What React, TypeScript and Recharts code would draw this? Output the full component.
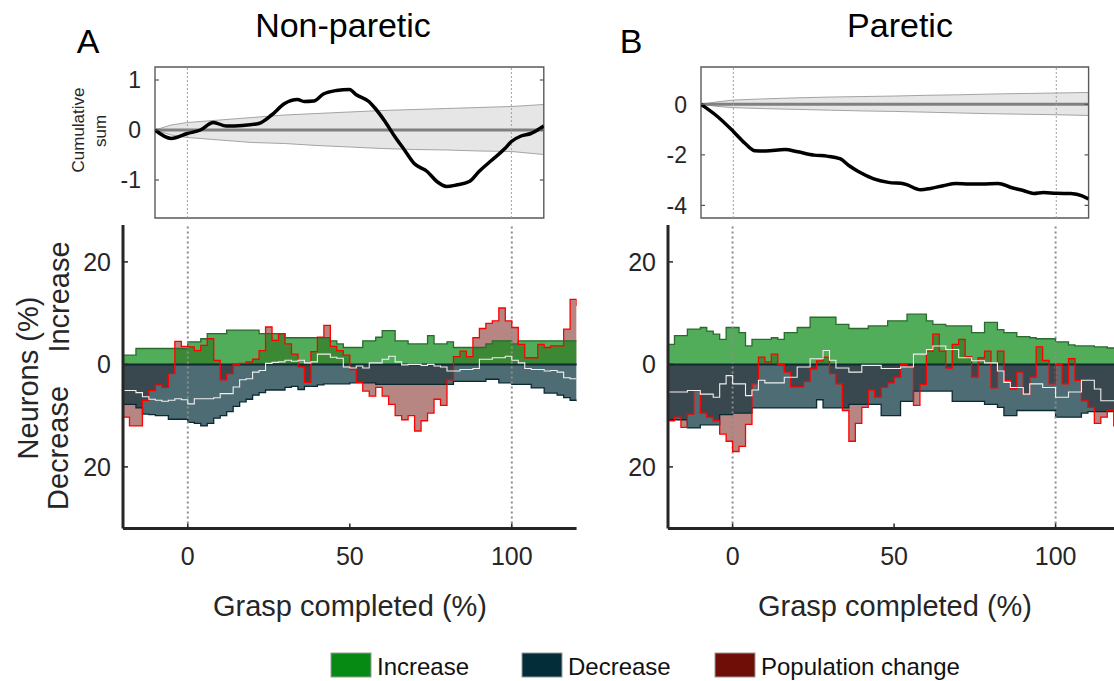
import React from 'react';
import { ComposedChart, Area, Line, XAxis, YAxis, ReferenceLine, ReferenceArea } from 'recharts';

const FONT = '"Liberation Sans", Arial, Helvetica, sans-serif';
const TXT = '#262626';

// ---------- bottom panels: time axis (Grasp completed, %) ----------
const gridX = [-20,-18,-16,-14,-12,-10,-8,-6,-4,-2,0,2,4,6,8,10,12,14,16,18,20,22,24,26,28,30,32,34,36,38,40,42,44,46,48,50,52,54,56,58,60,62,64,66,68,70,72,74,76,78,80,82,84,86,88,90,92,94,96,98,100,102,104,106,108,110,112,114,116,118,120];

// Non-paretic (A)
const aIncrease = [1.8,1.8,3.1,3.1,3.1,3.1,3.1,3.1,3.1,3.1, 4.4,4.4,5.0,6.0,6.0,6.0,6.7,6.7,6.7,6.7, 6.7,6.0,6.0,6.0,6.0,5.2,5.2,5.2,5.2,5.2, 5.2,5.2,4.6,4.0,3.3,3.3,3.3,4.6,4.6,5.3, 6.6,6.6,4.6,4.6,4.0,4.0,4.0,5.6,4.0,4.0, 4.4,3.3,3.3,3.3,3.3,3.3,4.0,4.6,4.6,4.6, 4.0,4.6,4.6,4.6,4.6,4.6,4.6,4.6,4.6,4.6, 4.6];
const aDecrease = [7.8,7.8,8.5,9.7,9.8,10.0,10.0,10.7,10.7,10.7, 11.3,11.5,12.0,11.5,10.5,10.0,9.2,8.2,7.3,6.8, 6.0,5.5,5.0,5.0,5.0,4.5,4.3,4.9,4.3,4.3, 4.0,3.8,3.8,3.8,3.8,3.6,3.6,3.6,3.6,3.9, 3.9,3.9,3.9,3.9,3.9,3.9,3.9,3.9,3.9,3.9, 3.9,3.3,3.3,3.3,3.3,3.3,2.9,2.9,3.6,3.6, 3.9,3.9,3.9,4.6,4.6,5.6,5.6,6.0,6.5,7.0, 7.2];
const aPopulation = [-10.3,-12,-12,-7,-5.1,-4,-4.5,-1.8,4.5,3.5, 3.4,2.7,3.7,5,0.8,-3,-1.8,0,0.2,0.5, 1,2.7,7.3,4.7,6,4,2,-0.5,-3.5,2.5, 5.3,7.6,3.5,2.7,1.8,-1,-3.5,-5.2,-6.2,-4.5, -6.2,-7.8,-10,-10.8,-10,-13,-11,-9.5,-6.8,-8, -3,1.5,2.6,1.5,5.2,7,8,8.5,11,8.5, 7.2,3.9,1.3,1.3,3.9,3.3,3.6,3.6,6.9,12.7, 11.4];
const aMean = [-5.1,-5.1,-5.5,-6.3,-6.8,-7,-7.2,-7,-6.7,-6.9, -7.7,-6.7,-6.7,-6.7,-6.5,-5.7,-5.7,-4.4,-3,-2.8, -1.5,-1.2,0.2,0.4,0.5,0.8,0.6,0.8,0.3,0.5, 2,2,1.4,1.2,-0.5,-0.7,-0.3,-0.7,0.3,0.3, 1,1.6,0.5,-0.1,0,0,-0.2,0,-0.3,-0.5, -1.3,-1.3,-1,-1,-0.8,1,1,1.3,1.3,1.6, 0.8,0.3,-0.8,-1,-1,-1.3,-1.2,-1.5,-2.6,-2.8, -2.8];

// Paretic (B)
const bIncrease = [3.9,5.6,5.6,6.9,6.9,7.2,6.5,5.9,4.9,7.2, 7.2,6.2,3.6,4.9,4.9,4.9,5.2,4.9,6.2,6.2, 7.2,7.2,9.2,9.2,9.2,9.2,7.8,7.8,7.0,7.0, 7.0,7.5,7.5,7.5,8.5,8.5,8.5,9.8,9.8,9.8, 8.5,7.8,7.8,7.5,7.5,7.5,7.5,6.2,6.2,8.2, 8.2,6.8,6.2,6.2,5.4,5.4,5.2,5.0,5.0,5.0, 4.4,4.4,3.8,3.6,3.6,3.6,3.4,3.4,3.2,3.2, 3.2];
const bDecrease = [10.8,10.8,10.8,12.4,12.4,11.8,11.8,11.8,9.8,9.8, 9.5,9.5,9.5,8.5,8.5,8.5,8.5,8.5,8.5,8.5, 8.5,8.5,8.5,6.9,8.5,8.5,8.5,8.5,7.8,7.8, 7.8,7.8,7.8,10.0,10.0,10.0,7.2,7.2,5.2,5.2, 5.2,5.2,5.2,5.2,7.2,7.2,7.2,7.2,7.2,7.8, 7.8,8.4,10.0,10.0,9.0,9.0,9.0,9.0,9.0,9.0, 10.3,10.3,10.3,10.3,9.5,9.2,9.2,9.2,9.2,9.2, 9.2];
const bPopulation = [-11,-10.3,-12.3,-9.7,-5.1,-9.5,-10.3,-11,-13.6,-15, -17,-16,-11.7,-3.8,1.4,0.5,2,0,-1.5,-4.4, -4.4,-3.3,-0.9,0.7,1.4,-1.8,-3.8,-9,-15,-11.5, -8.4,-5,-6.4,-4.5,-3.6,-2.5,0,-0.5,-8,-3.9, 2.6,5.9,2.6,-0.7,3.9,4.9,1.5,-2.5,1.3,2.6, -4.6,2.6,-3.1,-4.8,-1.5,-5.8,-2.5,3.4,0.8,-3.8, 0,-3.8,1.1,-3.1,-7.1,-8.4,-11.5,-10.3,-9,-12, -11];
const bMean = [-5.4,-5.4,-5.4,-5.1,-5.1,-5.8,-5.8,-6.4,-3.8,-2.2, -3.8,-3.8,-6.1,-5,-3.1,-3.6,-3.6,-3.6,-2.5,-2.5, -0.5,-0.5,1.1,1.1,2.7,0.8,-0.7,-0.7,-1.5,-1.5, -0.2,-0.2,-0.2,-0.8,-0.8,-0.8,-0.5,-0.5,2,2, 2.9,3.6,3.6,2.9,2.9,1.3,1.3,0.7,0.7,0.3, 0.3,-1.3,-3.5,-4.5,-4.5,-5.8,-3.8,-3.8,-4.5,-4.5, -6.4,-6.4,-5.4,-5.4,-3.1,-3.1,-4.8,-7.1,-7.1,-7.1, -7.1];

const bottomXTicks = [0, 50, 100];
const bottomYTicks = [-20, 0, 20];

// ---------- top panels: cumulative sum ----------
const bandX = [-10, -5, 0, 10, 20, 30, 40, 50, 60, 70, 80, 90, 100, 110];
const aBandHigh = [0, 0.1, 0.15, 0.2, 0.25, 0.3, 0.33, 0.36, 0.39, 0.41, 0.43, 0.45, 0.47, 0.51];
const aBandLow = [0, -0.1, -0.15, -0.2, -0.25, -0.27, -0.31, -0.34, -0.37, -0.39, -0.4, -0.42, -0.43, -0.49];
const bBandHigh = [0, 0.1, 0.17, 0.22, 0.26, 0.29, 0.31, 0.33, 0.36, 0.38, 0.41, 0.43, 0.45, 0.47];
const bBandLow = [0, -0.08, -0.13, -0.17, -0.2, -0.23, -0.26, -0.28, -0.31, -0.34, -0.37, -0.39, -0.41, -0.44];

const aCumX = [-10, -5, 0, 4, 8, 12, 17, 22, 26, 30, 34, 36, 39, 42, 46, 50, 52, 56, 58, 61, 64, 67, 70, 74, 77, 80, 83, 87, 90, 94, 98, 100, 103, 106, 110];
const aCumY = [0, -0.17, -0.07, 0, 0.15, 0.08, 0.09, 0.13, 0.3, 0.53, 0.61, 0.57, 0.58, 0.72, 0.79, 0.81, 0.71, 0.57, 0.43, 0.17, -0.13, -0.4, -0.67, -0.83, -1.03, -1.13, -1.1, -1.03, -0.83, -0.6, -0.37, -0.23, -0.12, -0.07, 0.08];
const bCumX = [-10, -5, 0, 3.6, 6.7, 10, 16, 20, 25, 29, 33, 36, 39, 43.5, 48, 53, 58, 61, 65, 69, 73, 77, 82, 86, 90, 93, 96, 100, 104.5, 108, 110];
const bCumY = [0, -0.47, -1.07, -1.54, -1.84, -1.85, -1.79, -1.88, -2.01, -2.05, -2.15, -2.44, -2.68, -2.95, -3.09, -3.15, -3.38, -3.33, -3.22, -3.13, -3.15, -3.15, -3.13, -3.29, -3.42, -3.53, -3.49, -3.52, -3.53, -3.62, -3.75];

const aTopTicks = [-1, 0, 1];
const bTopTicks = [-4, -2, 0];

const COL_INC = '#078a14';
const COL_DEC = '#032d38';
const COL_POP = '#6f0e06';

function buildRows(inc: number[], dec: number[], pop: number[], mean: number[]) {
  return gridX.map((x, i) => ({ x, inc: inc[i], dec: -dec[i], pop: pop[i], mean: mean[i] }));
}

function BottomPanel({ origin, scale, rows }: { origin: number; scale: number; rows: any[] }) {
  const plotLeft = origin - 20 * scale;
  const plotRight = origin + 120 * scale;
  const plotTop = 224.6;
  const plotBottom = 528;
  const YW = 60, XH = 50;
  const ML = 70, MR = 6, MT = 6, MB = 50;
  const w = plotRight - plotLeft + ML + MR;
  const h = plotBottom - plotTop + MT + MB;
  const axisY = MT + (plotBottom - plotTop);
  const xTick = (p: any) => (
    <g>
      <line x1={p.x} x2={p.x} y1={axisY} y2={axisY - 5} stroke={TXT} strokeWidth={1.5} />
      <text x={p.x} y={axisY + 37} textAnchor="middle" fontSize={25} fill={TXT} fontFamily={FONT}>{p.payload.value}</text>
    </g>
  );
  const yTick = (p: any) => (
    <g>
      <line x1={ML} x2={ML + 5} y1={p.y} y2={p.y} stroke={TXT} strokeWidth={1.5} />
      <text x={ML - 12} y={p.y} dy="0.36em" textAnchor="end" fontSize={25} fill={TXT} fontFamily={FONT}>{Math.abs(p.payload.value)}</text>
    </g>
  );
  return (
    <div style={{ position: 'absolute', left: plotLeft - ML, top: plotTop - MT }}>
      <ComposedChart width={w} height={h} data={rows} margin={{ top: MT, right: MR, bottom: MB - XH, left: ML - YW }}>
        <XAxis dataKey="x" type="number" domain={[-20, 120]} ticks={bottomXTicks} interval={0} height={XH} tickLine={false} axisLine={{ stroke: TXT, strokeWidth: 3 }} tick={xTick} allowDataOverflow />
        <YAxis type="number" domain={[-32, 27.2]} ticks={bottomYTicks} interval={0} width={YW} tickLine={false} axisLine={{ stroke: TXT, strokeWidth: 3 }} tick={yTick} allowDataOverflow />
        <Area dataKey="pop" type="stepAfter" baseValue={0} fill={COL_POP} fillOpacity={0.5} stroke="none" isAnimationActive={false} dot={false} activeDot={false} />
        <Area dataKey="inc" type="stepAfter" baseValue={0} fill={COL_INC} fillOpacity={0.7} stroke="#2a6a2e" strokeWidth={1.3} isAnimationActive={false} dot={false} activeDot={false} />
        <Area dataKey="dec" type="stepAfter" baseValue={0} fill={COL_DEC} fillOpacity={0.7} stroke="#0a2a32" strokeWidth={1.3} isAnimationActive={false} dot={false} activeDot={false} />
        <ReferenceLine y={0} stroke="#0f2a30" strokeWidth={2} />
        <ReferenceLine x={0} stroke="#8c8c8c" strokeDasharray="2 3" strokeWidth={2} />
        <ReferenceLine x={100} stroke="#8c8c8c" strokeDasharray="2 3" strokeWidth={2} />
        <Line dataKey="pop" type="stepAfter" stroke="#ff0000" strokeWidth={1.3} dot={false} activeDot={false} isAnimationActive={false} />
        <Line dataKey="mean" type="stepAfter" stroke="#f0f0f0" strokeWidth={1.1} dot={false} activeDot={false} isAnimationActive={false} />
      </ComposedChart>
    </div>
  );
}

function TopPanel({ origin, scale, domain, ticks, high, low, cumX, cumY }: any) {
  const plotLeft = origin - 10 * scale;
  const plotRight = origin + 110 * scale;
  const plotTop = 67;
  const plotBottom = 218;
  const YW = 60;
  const ML = 60, MR = 6, MT = 4, MB = 4;
  const w = plotRight - plotLeft + ML + MR;
  const h = plotBottom - plotTop + MT + MB;
  const plotW = plotRight - plotLeft;
  const bandRows = bandX.map((x, i) => ({ x, range: [low[i], high[i]], mid: 0 }));
  const cumRows = cumX.map((x: number, i: number) => ({ x, y: cumY[i] }));
  const yTick = (p: any) => (
    <g>
      <line x1={ML} x2={ML + 4} y1={p.y} y2={p.y} stroke="#555" strokeWidth={1.2} />
      <line x1={ML + plotW - 4} x2={ML + plotW} y1={p.y} y2={p.y} stroke="#555" strokeWidth={1.2} />
      <text x={ML - 14} y={p.y} dy="0.36em" textAnchor="end" fontSize={23} fill={TXT} fontFamily={FONT}>{p.payload.value}</text>
    </g>
  );
  return (
    <div style={{ position: 'absolute', left: plotLeft - ML, top: plotTop - MT }}>
      <ComposedChart width={w} height={h} margin={{ top: MT, right: MR, bottom: MB, left: ML - YW }}>
        <XAxis dataKey="x" type="number" domain={[-10, 110]} hide allowDataOverflow />
        <YAxis type="number" domain={domain} ticks={ticks} interval={0} width={YW} tickLine={false} axisLine={false} tick={yTick} allowDataOverflow />
        <Area data={bandRows} dataKey="range" type="linear" fill="#e6e6e6" fillOpacity={1} stroke="#a3a3a3" strokeWidth={1} isAnimationActive={false} dot={false} activeDot={false} />
        <Line data={bandRows} dataKey="mid" type="linear" stroke="#808080" strokeWidth={3} dot={false} activeDot={false} isAnimationActive={false} />
        <ReferenceLine x={0} stroke="#a0a0a0" strokeDasharray="2 2" strokeWidth={1} />
        <ReferenceLine x={100} stroke="#a0a0a0" strokeDasharray="2 2" strokeWidth={1} />
        <ReferenceArea x1={-10} x2={110} y1={domain[0]} y2={domain[1]} fill="none" fillOpacity={0} stroke="#5a5a5a" strokeWidth={1.4} />
        <Line data={cumRows} dataKey="y" type="monotone" stroke="#000" strokeWidth={3.5} dot={false} activeDot={false} isAnimationActive={false} />
      </ComposedChart>
    </div>
  );
}

export default function App() {
  const aRows = buildRows(aIncrease, aDecrease, aPopulation, aMean);
  const bRows = buildRows(bIncrease, bDecrease, bPopulation, bMean);
  const rot = (x: number, y: number) => `translate(${x},${y}) rotate(-90)`;
  return (
    <div style={{ position: 'absolute', left: 0, top: 0, width: 1114, height: 681, overflow: 'hidden', background: '#fff', fontFamily: FONT }}>
      <TopPanel origin={187.5} scale={3.24} domain={[-1.76, 1.26]} ticks={aTopTicks} high={aBandHigh} low={aBandLow} cumX={aCumX} cumY={aCumY} />
      <TopPanel origin={733} scale={3.23} domain={[-4.5, 1.48]} ticks={bTopTicks} high={bBandHigh} low={bBandLow} cumX={bCumX} cumY={bCumY} />
      <BottomPanel origin={187.5} scale={3.24} rows={aRows} />
      <BottomPanel origin={733} scale={3.23} rows={bRows} />
      <svg width={1114} height={681} style={{ position: 'absolute', left: 0, top: 0, pointerEvents: 'none' }} fontFamily={FONT}>
        <text x={88} y={53} fontSize={34} textAnchor="middle" fill="#000">A</text>
        <text x={343} y={37} fontSize={34} textAnchor="middle" fill="#000">Non-paretic</text>
        <text x={631} y={53} fontSize={34} textAnchor="middle" fill="#000">B</text>
        <text x={900} y={37} fontSize={34} textAnchor="middle" fill="#000">Paretic</text>
        <text transform={rot(78, 130)} fontSize={17} textAnchor="middle" dominantBaseline="central" fill={TXT}>Cumulative</text>
        <text transform={rot(100, 131)} fontSize={17} textAnchor="middle" dominantBaseline="central" fill={TXT}>sum</text>
        <text transform={rot(27.5, 378)} fontSize={29} textAnchor="middle" dominantBaseline="central" fill={TXT}>Neurons (%)</text>
        <text transform={rot(59, 297)} fontSize={29} textAnchor="middle" dominantBaseline="central" fill={TXT}>Increase</text>
        <text transform={rot(58, 448)} fontSize={29} textAnchor="middle" dominantBaseline="central" fill={TXT}>Decrease</text>
        <text x={350} y={616} fontSize={29} textAnchor="middle" fill={TXT}>Grasp completed (%)</text>
        <text x={895} y={616} fontSize={29} textAnchor="middle" fill={TXT}>Grasp completed (%)</text>
        <rect x={331} y={653} width={40} height={24} fill={COL_INC} stroke="#9a9a9a" strokeWidth={1} />
        <text x={377} y={675} fontSize={24} fill="#111">Increase</text>
        <rect x={522} y={653} width={40} height={24} fill={COL_DEC} stroke="#9a9a9a" strokeWidth={1} />
        <text x={568} y={675} fontSize={24} fill="#111">Decrease</text>
        <rect x={715} y={653} width={40} height={24} fill={COL_POP} stroke="#9a9a9a" strokeWidth={1} />
        <text x={761} y={675} fontSize={24} fill="#111">Population change</text>
      </svg>
    </div>
  );
}
